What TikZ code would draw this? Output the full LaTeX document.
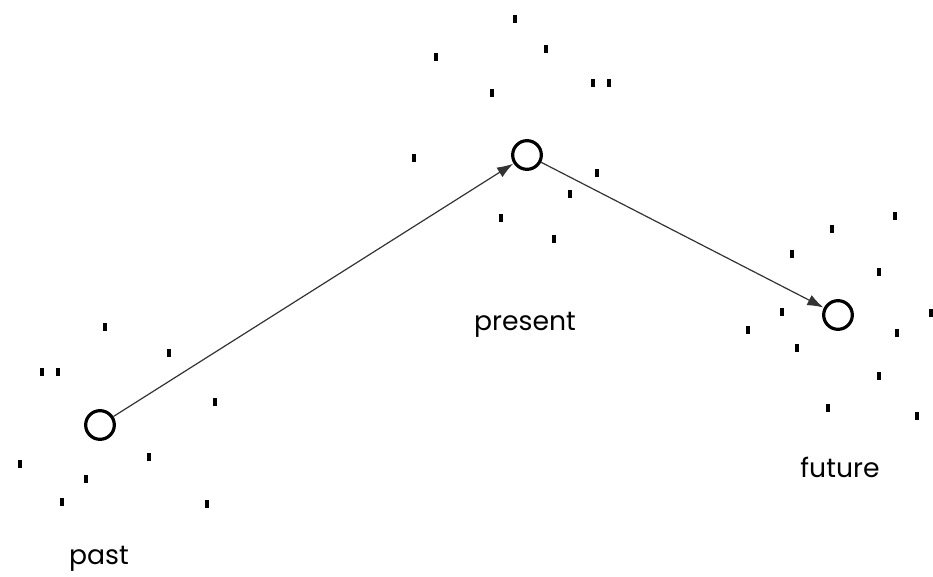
\documentclass[tikz,border=0pt]{standalone}
\usepackage{fontspec}
\setmainfont{Poppins}
\usetikzlibrary{arrows.meta}
\begin{document}
\begin{tikzpicture}[x=0.75pt,y=-0.75pt,
  state/.style={circle,draw=black,line width=2.4pt,minimum size=21.5pt,inner sep=0pt,fill=white},
  dot/.style={rectangle,fill=black,minimum width=2.9pt,minimum height=5.4pt,inner sep=0pt},
  lbl/.style={font=\fontsize{20}{24}\selectfont,text=black},
  conn/.style={draw=black!80,line width=0.9pt,-{Latex[length=12pt,width=8.5pt]},shorten >=0.4pt}]
\useasboundingbox (0,0) rectangle (933,577);
% states
\node[state] (past) at (100,425) {};
\node[state] (present) at (527,155) {};
\node[state] (future) at (838,315) {};
% labels
\node[lbl] (lpast) at (99,559) {past};
\node[lbl] (lpresent) at (525,325) {present};
\node[lbl] (lfuture) at (840,467) {future};
% connectors
\draw[conn] (past) -- (present);
\draw[conn] (present) -- (future);
% past cluster
\foreach \p [count=\i] in {(105,327),(169,353),(42,372),(58,372),(215,402),(20,464),(149,457),(86,479),(62,502),(207,504)}
  \node[dot] (a\i) at \p {};
% present cluster
\foreach \p [count=\i] in {(515,19),(546,49),(436,57),(593,83),(609,83),(492,93),(414,158),(597,173),(570,194),(501,218),(554,239)}
  \node[dot] (b\i) at \p {};
% future cluster
\foreach \p [count=\i] in {(895,216),(832,229),(792,254),(879,272),(782,312),(931,313),(748,330),(897,333),(797,348),(879,376),(828,408),(917,416)}
  \node[dot] (c\i) at \p {};
\end{tikzpicture}
\end{document}
